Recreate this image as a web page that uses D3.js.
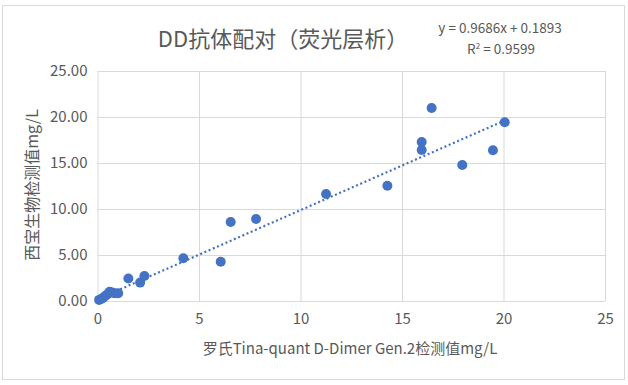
<!DOCTYPE html>
<html>
<head>
<meta charset="utf-8">
<script src="https://cdn.jsdelivr.net/npm/d3@7"></script>
<style>
  body { margin: 0; background: #fff; }
  text { font-family: "Noto Sans CJK SC", "Noto Sans", sans-serif; fill: #595959; }
</style>
</head>
<body>
<div id="chart"></div>
<script>
const width = 628;
const height = 385;

// data
const rocheVals = [0.08, 0.18, 0.28, 0.38, 0.5, 0.6, 0.72, 0.85, 1.02,
    1.52, 2.1, 2.31, 4.23, 6.07, 6.56, 7.81, 11.26, 14.28,
    15.97, 15.97, 16.46, 17.97, 19.48, 20.06];
const xibaoVals = [0.12, 0.22, 0.35, 0.55, 0.75, 1.0, 0.92, 0.85, 0.85,
    2.45, 2.0, 2.72, 4.64, 4.27, 8.59, 8.91, 11.63, 12.53,
    16.41, 17.28, 20.98, 14.78, 16.38, 19.42];
const xTicks = [0, 5, 10, 15, 20, 25];
const yTicks = [0, 5, 10, 15, 20, 25];
const slope = 0.9686, intercept = 0.1893;

const data = rocheVals.map((v, i) => ({ x: v, y: xibaoVals[i] }));

const plot = { left: 97.5, right: 605, top: 71, bottom: 301 };

const xScale = d3.scaleLinear().domain([0, 25]).range([plot.left, plot.right]);
const yScale = d3.scaleLinear().domain([0, 25]).range([plot.bottom, plot.top]);

const svg = d3.select("#chart").append("svg").attr("width", width).attr("height", height);

// chart frame
svg.append("rect")
    .attr("x", 2.5).attr("y", 5.5)
    .attr("width", 622).attr("height", 374)
    .attr("fill", "#fff").attr("stroke", "#d9d9d9");

// gridlines + tick labels
const yAxis = d3.axisLeft(yScale).tickValues(yTicks).tickFormat(d3.format(".2f"))
    .tickSize(-(plot.right - plot.left)).tickPadding(10);
const xAxis = d3.axisBottom(xScale).tickValues(xTicks).tickFormat(d3.format("d"))
    .tickSize(-(plot.bottom - plot.top)).tickPadding(12);

const gy = svg.append("g").attr("transform", `translate(${plot.left},0)`).call(yAxis);
const gx = svg.append("g").attr("transform", `translate(0,${plot.bottom})`).call(xAxis);

[gx, gy].forEach(g => {
    g.select(".domain").remove();
    g.selectAll(".tick line").attr("stroke", "#d9d9d9");
    g.selectAll(".tick text").attr("font-size", 15).attr("fill", "#595959");
});

// trendline
const xMin = d3.min(rocheVals), xMax = d3.max(rocheVals);
svg.append("line")
    .attr("x1", xScale(xMin)).attr("y1", yScale(slope * xMin + intercept))
    .attr("x2", xScale(xMax)).attr("y2", yScale(slope * xMax + intercept))
    .attr("stroke", "#4472c4")
    .attr("stroke-width", 2.2)
    .attr("stroke-dasharray", "2,2.6");

// points
svg.append("g").selectAll("circle")
    .data(data)
    .join("circle")
    .attr("cx", d => xScale(d.x))
    .attr("cy", d => yScale(d.y))
    .attr("r", 5)
    .attr("fill", "#4472c4");

// title
svg.append("text")
    .attr("x", 283).attr("y", 47)
    .attr("text-anchor", "middle")
    .attr("font-size", 22)
    .text("DD抗体配对（荧光层析）");

// equation (two lines, spaced so they do not collide)
svg.append("text")
    .attr("x", 500).attr("y", 33)
    .attr("text-anchor", "middle")
    .attr("font-size", 13.5)
    .text("y = 0.9686x + 0.1893");

const r2 = svg.append("text")
    .attr("x", 501).attr("y", 54)
    .attr("text-anchor", "middle")
    .attr("font-size", 13.5);
r2.append("tspan").text("R");
r2.append("tspan").attr("font-size", 8).attr("dy", -5).text("2");
r2.append("tspan").attr("dy", 5).text(" = 0.9599");

// axis titles
svg.append("text")
    .attr("x", 350).attr("y", 354)
    .attr("text-anchor", "middle")
    .attr("font-size", 15)
    .text("罗氏Tina-quant D-Dimer Gen.2检测值mg/L");

svg.append("text")
    .attr("transform", "translate(38,185) rotate(-90)")
    .attr("text-anchor", "middle")
    .attr("font-size", 16)
    .text("西宝生物检测值mg/L");
</script>
</body>
</html>
